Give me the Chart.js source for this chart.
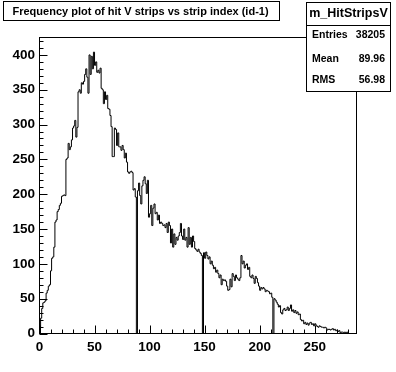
<!DOCTYPE html>
<html>
<head>
<meta charset="utf-8">
<script src="https://cdn.jsdelivr.net/npm/chart.js@4"></script>
<style>
    html, body { margin: 0; padding: 0; background: #fff; }
    #histo { display: block; }
</style>
</head>
<body>
<canvas id="histo" width="396" height="372"></canvas>
<script>
// bin range of the histogram (strip index 0..288, one bin per strip)
var xMin = 0;
var xMax = 288;
var yMax = 425;

// counts per strip (bins 88, 148, 212 are dead strips)
var counts = [
    9, 22, 36, 44, 45, 47, 58, 62, 68, 70,
    90, 108, 110, 124, 160, 163, 175, 178, 184, 187,
    197, 198, 199, 198, 250, 252, 273, 264, 268, 278,
    295, 298, 306, 282, 296, 347, 350, 345, 360, 358,
    362, 372, 380, 368, 345, 400, 372, 398, 380, 404,
    385, 390, 375, 378, 374, 381, 352, 350, 330, 347,
    336, 342, 323, 322, 313, 297, 254, 254, 295, 293,
    270, 288, 268, 268, 263, 270, 264, 252, 259, 246,
    232, 230, 232, 233, 231, 206, 208, 196, 0, 205,
    216, 198, 186, 212, 220, 225, 215, 201, 220, 167,
    172, 184, 155, 180, 186, 172, 174, 163, 170, 158,
    160, 158, 155, 156, 152, 158, 145, 160, 155, 130,
    150, 124, 143, 128, 138, 134, 140, 145, 158, 140,
    135, 150, 134, 138, 124, 152, 128, 138, 124, 140,
    132, 122, 120, 118, 121, 117, 115, 112, 0, 116,
    108, 117, 112, 107, 110, 100, 104, 98, 93, 95,
    88, 91, 86, 80, 84, 70, 78, 76, 77, 75,
    68, 62, 63, 78, 67, 86, 82, 76, 84, 80,
    78, 76, 80, 112, 100, 104, 94, 98, 100, 92,
    95, 82, 80, 84, 79, 72, 82, 79, 73, 68,
    62, 66, 64, 66, 64, 60, 62, 61, 60, 57,
    58, 52, 0, 50, 48, 45, 42, 38, 40, 30,
    28, 34, 36, 33, 34, 38, 33, 36, 41, 32,
    34, 30, 33, 29, 31, 27, 28, 20, 18, 19,
    14, 16, 13, 15, 12, 15, 16, 13, 14, 11,
    14, 12, 10, 9, 11, 10, 9, 9, 8, 9,
    8, 5, 6, 6, 5, 6, 7, 5, 6, 4,
    5, 3, 4, 1, 2, 2, 1, 2, 1, 2,
    0, 0, 0, 0, 0, 0, 0, 0
];

var histTitle = 'Frequency plot of hit V strips vs strip index (id-1)';
var statsName = 'm_HitStripsV';
var statsLabels = ['Entries', 'Mean', 'RMS'];
var statsValues = ['38205', '89.96', '56.98'];

// step outline: start on the axis, one point per left bin edge, close at xMax
var points = [{ x: xMin, y: 0 }];
counts.forEach(function(v, i) {
    points.push({ x: xMin + i, y: v });
});
points.push({ x: xMax, y: counts[counts.length - 1] });

var axisFont = { family: 'Liberation Sans, Arial, sans-serif', size: 13.5, weight: 'bold' };

/**
 * ROOT style frame, inner ticks, title box and stats box
 */
var rootDecor = {
    id: 'rootDecor',
    afterDatasetsDraw: function(chart) {
        var ctx = chart.ctx;
        var a = chart.chartArea;
        var xs = chart.scales.x;
        var ys = chart.scales.y;

        ctx.save();
        ctx.strokeStyle = '#000';
        ctx.lineWidth = 1;
        ctx.strokeRect(a.left, a.top, a.right - a.left, a.bottom - a.top);

        // x ticks point up from the bottom, y ticks point right from the left
        ctx.beginPath();
        xs.ticks.forEach(function(t) {
            var px = Math.round(xs.getPixelForValue(t.value)) + 0.5;
            var len = t.value % 50 === 0 ? 8 : 4;
            ctx.moveTo(px, a.bottom);
            ctx.lineTo(px, a.bottom - len);
        });
        ys.ticks.forEach(function(t) {
            var py = Math.round(ys.getPixelForValue(t.value)) + 0.5;
            var len = t.value % 50 === 0 ? 8 : 4;
            ctx.moveTo(a.left, py);
            ctx.lineTo(a.left + len, py);
        });
        ctx.stroke();

        // title box
        ctx.fillStyle = '#fff';
        ctx.fillRect(3.5, 1.5, 276, 19);
        ctx.strokeRect(3.5, 1.5, 276, 19);
        ctx.fillStyle = '#000';
        ctx.font = 'bold 11px Liberation Sans, Arial, sans-serif';
        ctx.textBaseline = 'middle';
        ctx.textAlign = 'left';
        ctx.fillText(histTitle, 12.5, 11.5);

        // stats box
        ctx.fillStyle = '#fff';
        ctx.fillRect(306.5, 2.5, 84, 89);
        ctx.strokeRect(306.5, 2.5, 84, 89);
        ctx.beginPath();
        ctx.moveTo(306.5, 25.5);
        ctx.lineTo(390.5, 25.5);
        ctx.stroke();
        ctx.fillStyle = '#000';
        ctx.font = 'bold 12.5px Liberation Sans, Arial, sans-serif';
        ctx.textAlign = 'center';
        ctx.fillText(statsName, 348.5, 14);
        ctx.font = 'bold 10.5px Liberation Sans, Arial, sans-serif';
        var rowY = [35.5, 59, 80.5];
        statsLabels.forEach(function(label, i) {
            ctx.textAlign = 'left';
            ctx.fillText(label, 312, rowY[i]);
            ctx.textAlign = 'right';
            ctx.fillText(statsValues[i], 385, rowY[i]);
        });
        ctx.restore();
    }
};

new Chart(document.getElementById('histo'), {
    type: 'line',
    data: {
        datasets: [{
            label: statsName,
            data: points,
            stepped: 'before',
            borderColor: '#000',
            borderWidth: 1,
            pointRadius: 0,
            fill: false
        }]
    },
    options: {
        responsive: false,
        animation: false,
        events: [],
        layout: {
            padding: { left: 0, right: 39.5, top: 37.5, bottom: 0 }
        },
        plugins: {
            legend: { display: false },
            tooltip: { enabled: false }
        },
        scales: {
            x: {
                type: 'linear',
                min: xMin,
                max: xMax,
                afterFit: function(scale) { scale.height = 38.5; },
                border: { display: false },
                grid: { display: false, drawTicks: false },
                ticks: {
                    stepSize: 10,
                    includeBounds: false,
                    autoSkip: false,
                    maxRotation: 0,
                    padding: 6,
                    color: '#000',
                    font: axisFont,
                    callback: function(value) {
                        return value % 50 === 0 ? value : '';
                    }
                }
            },
            y: {
                min: 0,
                max: yMax,
                afterFit: function(scale) { scale.width = 39.5; },
                border: { display: false },
                grid: { display: false, drawTicks: false },
                ticks: {
                    stepSize: 10,
                    includeBounds: false,
                    autoSkip: false,
                    padding: 4.5,
                    color: '#000',
                    font: axisFont,
                    callback: function(value) {
                        return value % 50 === 0 ? value : '';
                    }
                }
            }
        }
    },
    plugins: [rootDecor]
});
</script>
</body>
</html>
